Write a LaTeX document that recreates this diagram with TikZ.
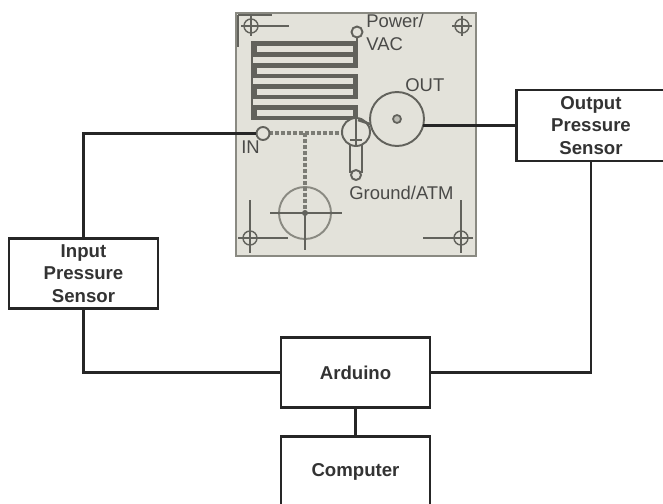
\documentclass[tikz,border=0pt]{standalone}
\usepackage{fontspec}
\setmainfont{Liberation Sans}
\definecolor{platefill}{HTML}{E3E2DA}
\definecolor{plateedge}{HTML}{8A8A82}
\definecolor{chandark}{HTML}{62625C}
\definecolor{labelgray}{HTML}{4A4A48}
\tikzset{
  blockbox/.style={draw=black!85,line width=1.6pt,fill=white,minimum width=2.98cm,minimum height=1.41cm,
    align=center,inner sep=0pt,font=\fontsize{10.6}{12.9}\selectfont\bfseries,text=black!80},
  wire/.style={draw=black!85,line width=1.6pt},
  port/.style={circle,draw=chandark,line width=1.1pt,fill=platefill,inner sep=0pt},
  platelabel/.style={font=\fontsize{10.5}{12.4}\selectfont,text=labelgray,inner sep=0pt},
  hole/.style={draw=chandark,line width=0.8pt},
  channel/.style={draw=chandark,line width=1.4pt},
  dashchan/.style={draw=chandark!80!platefill,line width=1.8pt,dash pattern=on 2.4pt off 1pt},
}
\begin{document}
\begin{tikzpicture}[x=0.02cm,y=-0.02cm]
    \clip (0,0) rectangle (663,504);
    % plate
    \draw[fill=platefill,draw=plateedge,line width=1.7pt] (236,13) rectangle (476,256);
    \draw[chandark,line width=1.2pt] (238,15) -- (272,15) (238,15) -- (238,47);
    % serpentine channel
    \fill[chandark] (251,41) rectangle (358,120);
    \foreach \y/\xa/\xb in {46/257/353,57/253/353,67.5/257/358,78/253/353,88.5/257/353,99/253/358,109.5/257/353} {
      \fill[platefill] (\xa,\y) rectangle (\xb,\y+6);
    }
    % corner holes
    \foreach \x/\y in {251/26,462/26,250/238,461/238} {
      \draw[hole] (\x,\y) circle (7);
      \draw[hole] (\x-10,\y) -- (\x+10,\y) (\x,\y-10) -- (\x,\y+10);
    }
    \draw[hole] (251,26) -- (289,26);
    \draw[hole] (250,200) -- (250,253) (238,238) -- (288,238);
    \draw[hole] (461,200) -- (461,253) (423,238) -- (473,238);
    % lower circle and dashed channels
    \draw[draw=plateedge,line width=1.1pt] (305,213) circle (26);
    \draw[dashchan] (269,133) -- (342,133) (305,133) -- (305,213);
    \draw[hole] (305,213) -- (305,250) (270,213) -- (342,213);
    \fill[chandark] (305,213) circle (3);
    % valve
    \draw[channel,fill=platefill] (350,140) rectangle (362,172);
    \node[port,minimum size=0.56cm] (valve) at (356,132) {};
    \draw[channel] (356,118) -- (356,146);
    \draw[channel] (350,140) -- (362,140);
    \draw[channel] (358,120) -- (370,124);
    % ports
    \node[port,minimum size=0.22cm] (powerport) at (357,32) {};
    \draw[channel] (357,38) -- (357,42);
    \node[port,minimum size=0.26cm] (inport) at (263,133.5) {};
    \node[port,minimum size=0.2cm] (groundport) at (356,175) {};
    \node[port,minimum size=1.08cm] (outport) at (397,119) {};
    \draw[chandark,line width=1pt,fill=platefill!70!chandark] (397,119) circle (4);
    % labels
    \node[platelabel,anchor=west] at (366,21) {Power/};
    \node[platelabel,anchor=west] at (366,44) {VAC};
    \node[platelabel,anchor=west] at (405,85) {OUT};
    \node[platelabel,anchor=west] at (241,147) {IN};
    \node[platelabel,anchor=west] at (349,193) {Ground/ATM};
    % blocks
    \node[blockbox] (insensor) at (83.5,273.5) {Input\\Pressure\\Sensor};
    \node[blockbox,minimum height=1.42cm] (outsensor) at (591,125.5) {Output\\Pressure\\Sensor};
    \node[blockbox] (arduino) at (355.5,372.5) {Arduino};
    \node[blockbox] (computer) at (355.5,472) {Computer};
    % wires
    \draw[wire] (insensor.north) |- (inport.west);
    \draw[wire] (outsensor.west) -- ([xshift=-1pt]outsensor.west -| outport.east);
    \draw[wire] (insensor.south) |- (arduino.west);
    \draw[wire] (outsensor.south) |- (arduino.east);
    \draw[wire] (arduino.south) -- (computer.north);
\end{tikzpicture}
\end{document}
